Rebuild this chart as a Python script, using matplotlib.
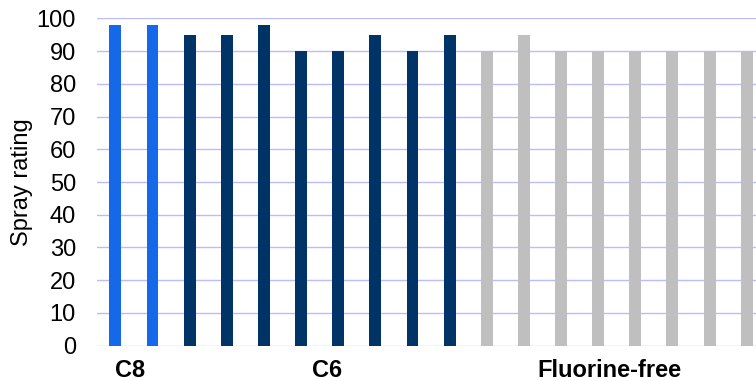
import matplotlib
matplotlib.use("Agg")
import matplotlib.pyplot as plt
import matplotlib.transforms as mtransforms

plt.rcParams['font.family'] = ['Liberation Sans', 'DejaVu Sans']

# Spray ratings per treatment, grouped by chemistry
c8_values = [98, 98]
c6_values = [95, 95, 98, 90, 90, 95, 90, 95]
ff_values = [90, 95, 90, 90, 90, 90, 90, 90]

group_names = ["C8", "C6", "Fluorine-free"]
group_label_x = [0.4, 5.7, 13.3]
group_colors = ["#1569E8", "#003366", "#BFBFBF"]
y_ticks = [0, 10, 20, 30, 40, 50, 60, 70, 80, 90, 100]

fig = plt.figure(figsize=(7.56, 3.81), dpi=100)
ax = fig.add_axes([0.128, 0.0927, 0.872, 0.859])

x = 0
for vals, color in zip([c8_values, c6_values, ff_values], group_colors):
    xs = list(range(x, x + len(vals)))
    ax.bar(xs, vals, width=0.32, color=color, zorder=3)
    x += len(vals)

ax.set_xlim(-0.5, 17.25)
ax.set_ylim(0, 100)
ax.set_yticks(y_ticks)
ax.set_yticklabels([str(t) for t in y_ticks], fontsize=17)
ax.tick_params(axis='y', length=0, pad=15)
ax.set_xticks([])

ax.grid(axis='y', color='#BBBBFF', linewidth=1.0, zorder=0)
for s in ax.spines.values():
    s.set_visible(False)

ax.set_ylabel("Spray rating", fontsize=17)
ax.yaxis.set_label_coords(-0.097, 0.5)

trans = mtransforms.blended_transform_factory(ax.transData, ax.transAxes)
for name, gx in zip(group_names, group_label_x):
    ax.text(gx, -0.075, name, transform=trans, ha='center', va='center',
            fontsize=17, fontweight='bold', clip_on=False)

fig.savefig("out.png", dpi=100)
